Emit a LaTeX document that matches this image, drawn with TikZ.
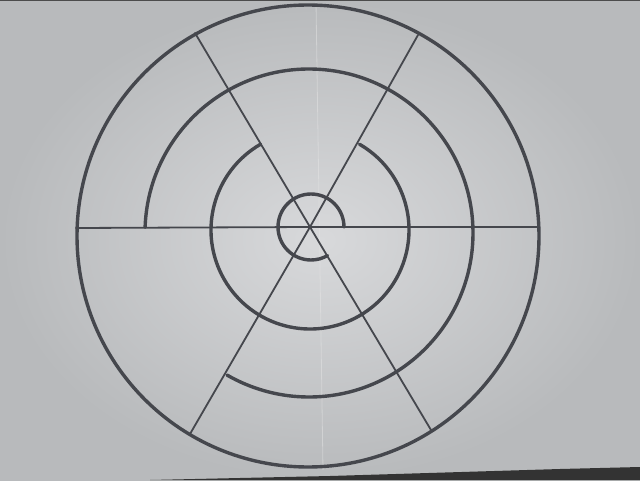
\documentclass[tikz,border=0pt]{standalone}
\begin{document}
\begin{tikzpicture}[x=1pt,y=1pt,
  ring/.style={line width=3.4pt, draw=ink, line cap=round},
  spoke/.style={line width=1.8pt, draw=ink, line cap=round}]
\definecolor{ink}{HTML}{45474D}
\definecolor{paperin}{HTML}{D8D9DB}
\definecolor{paperout}{HTML}{B8BABC}
\useasboundingbox (0,0) rectangle (640,480);
\shade[inner color=paperin, outer color=paperout] (0,0) rectangle (640,480);
\fill[black!80] (150,0) -- (330,4) -- (560,11) -- (640,13) -- (640,0) -- cycle;
\fill[black!70] (0,478.5) rectangle (640,480);
\draw[white!80!gray, opacity=0.5, line width=0.8pt] (316,478) -- (323,10);
% spoke end points
\coordinate (C) at (310,253);
\coordinate (HL) at (76,252);
\coordinate (HR) at (539,253);
\coordinate (A1) at (195,447);
\coordinate (A2) at (431,50);
\coordinate (B1) at (418,445);
\coordinate (B2) at (190,46);
% outer circle
\draw[ring] (308,244) circle[radius=231];
% second arc
\draw[ring] (309,247) ++(178:164) arc[start angle=178, end angle=-120, radius=164];
% third arc
\draw[ring] (310,250) ++(120:99) arc[start angle=120, end angle=420, radius=99];
% inner arc
\draw[ring] (311,253) ++(0:33) arc[start angle=0, end angle=300, radius=33];
% spokes
\draw[spoke] (HL) -- (C) -- (HR);
\draw[spoke] (A1) -- (C) -- (A2);
\draw[spoke] (B1) -- (C) -- (B2);
\end{tikzpicture}
\end{document}
